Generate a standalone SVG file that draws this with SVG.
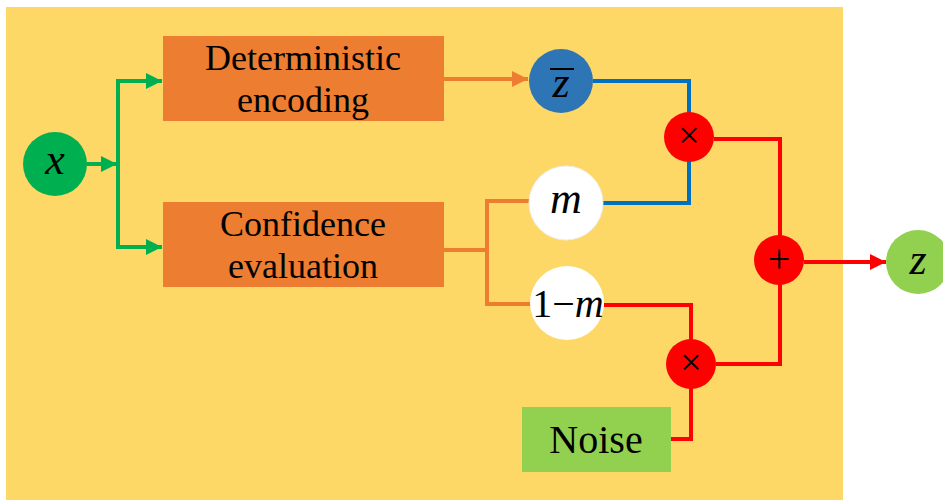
<svg xmlns="http://www.w3.org/2000/svg" width="943" height="500" viewBox="0 0 943 500">
<style>
text{font-family:"Liberation Serif","Tinos","Times New Roman","DejaVu Serif","Noto Serif",serif;fill:#000;text-anchor:middle}
.lbl{font-size:36px}
.math{font-style:italic;font-size:44px}
.g{stroke:#00B050;stroke-width:4;fill:none}
.o{stroke:#ED7D31;stroke-width:4;fill:none}
.b{stroke:#0070C0;stroke-width:4;fill:none}
.r{stroke:#FF0000;stroke-width:4;fill:none}
</style>
<defs>
<marker id="ag" viewBox="0 0 10 10" refX="10" refY="5" markerWidth="4" markerHeight="4" orient="auto" markerUnits="strokeWidth"><path d="M0,0L10,5L0,10z" fill="#00B050"/></marker>
<marker id="ao" viewBox="0 0 10 10" refX="10" refY="5" markerWidth="4" markerHeight="4" orient="auto" markerUnits="strokeWidth"><path d="M0,0L10,5L0,10z" fill="#ED7D31"/></marker>
<marker id="ar" viewBox="0 0 10 10" refX="10" refY="5" markerWidth="4" markerHeight="4" orient="auto" markerUnits="strokeWidth"><path d="M0,0L10,5L0,10z" fill="#FF0000"/></marker>
</defs>
<rect x="6" y="7" width="837" height="493" fill="#FDD866"/>
<g id="connectors">
<path class="g" d="M87,164H117" marker-end="url(#ag)"/>
<path class="g" d="M118,81V247"/>
<path class="g" d="M116,81H162" marker-end="url(#ag)"/>
<path class="g" d="M116,247H162" marker-end="url(#ag)"/>
<path class="o" d="M444,79H528" marker-end="url(#ao)"/>
<path class="o" d="M444,250H487M487,201V305M485,201H532M485,304H532"/>
<path class="b" d="M593,81H689V113M603,203H689V161"/>
<path class="r" d="M604,305H691V340M671,439H691V388"/>
<path class="r" d="M714,139H780V236M716,364H780V284"/>
<path class="r" d="M804,262H886" marker-end="url(#ar)"/>
</g>
<g id="x"><circle cx="55" cy="164" r="32" fill="#00B050"/><text class="math" x="55" y="174">x</text></g>
<g id="det"><rect fill="#ED7D31" x="163" y="36" width="281" height="85"/><text class="lbl" x="303" y="70">Deterministic</text><text class="lbl" x="303" y="112">encoding</text></g>
<g id="conf"><rect fill="#ED7D31" x="163" y="202" width="281" height="85"/><text class="lbl" x="303" y="236">Confidence</text><text class="lbl" x="303" y="278">evaluation</text></g>
<g id="zbar"><circle cx="561" cy="81" r="32" fill="#2E75B6"/><text class="math" x="561" y="97">z</text><line x1="550" y1="69" x2="574" y2="69" stroke="#000" stroke-width="2"/></g>
<g id="m"><circle cx="566" cy="203" r="37" fill="#fff" stroke="#eee" stroke-width="1"/><text class="math" x="566" y="213" font-size="46">m</text></g>
<g id="onem"><circle cx="567" cy="303" r="37" fill="#fff"/><text x="568" y="317" font-size="40"><tspan>1</tspan><tspan>−</tspan><tspan font-style="italic">m</tspan></text></g>
<g id="mul1"><circle cx="689" cy="137" r="25" fill="#FF0000"/><text x="689" y="148" font-size="38">×</text></g>
<g id="mul2"><circle cx="691" cy="364" r="25" fill="#FF0000"/><text x="691" y="375" font-size="38">×</text></g>
<g id="plus"><circle cx="779" cy="260" r="25" fill="#FF0000"/><text x="779" y="272" font-size="40">+</text></g>
<g id="noise"><rect x="522" y="407" width="149" height="65" fill="#92D050"/><text x="596" y="453" font-size="40">Noise</text></g>
<g id="z"><circle cx="918" cy="262" r="32" fill="#92D050"/><text class="math" x="918" y="274">z</text></g>
</svg>
